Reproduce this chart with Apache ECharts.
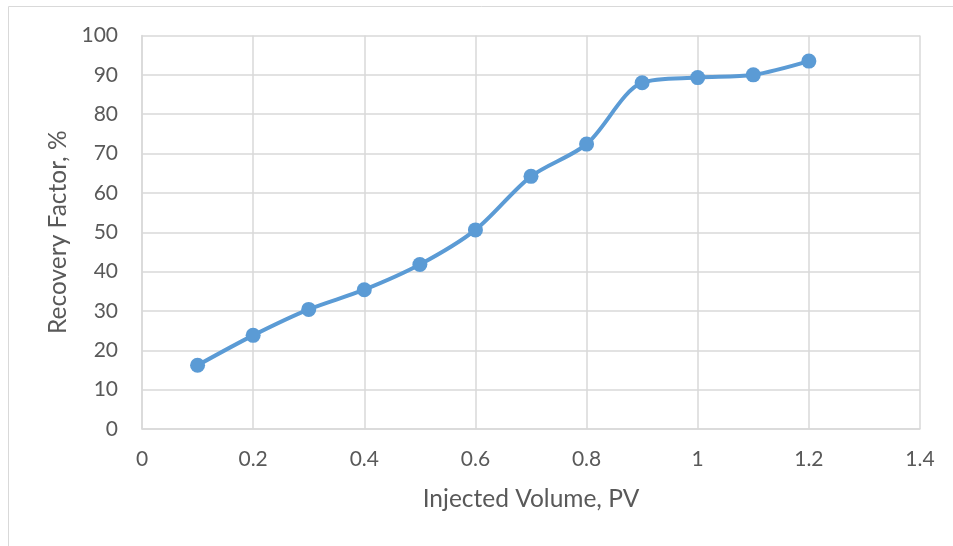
<!DOCTYPE html>
<html><head><meta charset="utf-8">
<script src="https://cdn.jsdelivr.net/npm/echarts@6/dist/echarts.min.js"></script>
<style>html,body{margin:0;padding:0;background:#fff}#c{width:953px;height:546px}</style>
</head><body><div id="c"></div>
<script>
const injectedPV = [0.1, 0.2, 0.3, 0.4, 0.5, 0.6, 0.7, 0.8, 0.9, 1.0, 1.1, 1.2];
const recovery = [16.2, 23.8, 30.4, 35.4, 41.8, 50.6, 64.2, 72.4, 88.0, 89.3, 90.0, 93.5];
const xName = 'Injected Volume, PV';
const yName = 'Recovery Factor, %';

const chart = echarts.init(document.getElementById('c'), null, {renderer: 'canvas'});
const font = 'Lato, "Open Sans", sans-serif';
const txt = '#595959';
const grid = '#d9d9d9';
chart.setOption({
  animation: false,
  graphic: [{type: 'rect', shape: {x: 8.5, y: 6.5, width: 1000, height: 600}, style: {fill: 'none', stroke: grid, lineWidth: 1}, silent: true}],
  grid: {left: 142, right: 33, top: 35.5, bottom: 117, containLabel: false},
  xAxis: {
    type: 'value', min: 0, max: 1.4, interval: 0.2,
    name: xName, nameLocation: 'middle', nameGap: 58,
    nameTextStyle: {color: txt, fontSize: 24.5, fontFamily: font},
    axisLine: {show: true, lineStyle: {color: grid, width: 1.5}},
    axisTick: {show: false},
    axisLabel: {color: txt, fontSize: 21, fontFamily: font, margin: 20, formatter: v => String(+v.toFixed(1))},
    splitLine: {show: true, lineStyle: {color: grid, width: 1.5}}
  },
  yAxis: {
    type: 'value', min: 0, max: 100, interval: 10,
    name: yName, nameLocation: 'middle', nameGap: 65, nameRotate: 90,
    nameTextStyle: {color: txt, fontSize: 24.5, fontFamily: font},
    axisLine: {show: true, lineStyle: {color: grid, width: 1.5}},
    axisTick: {show: false},
    axisLabel: {color: txt, fontSize: 21, fontFamily: font, margin: 24},
    splitLine: {show: true, lineStyle: {color: grid, width: 1.5}}
  },
  series: [{
    type: 'line',
    data: injectedPV.map((x, i) => [x, recovery[i]]),
    smooth: 0.3,
    symbol: 'circle', symbolSize: 15,
    lineStyle: {color: '#5B9BD5', width: 4},
    itemStyle: {color: '#5B9BD5'}
  }]
});
</script></body></html>
